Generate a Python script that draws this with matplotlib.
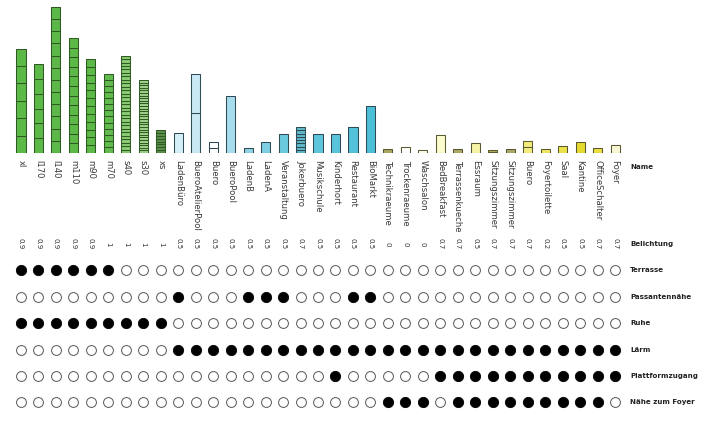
import matplotlib
matplotlib.use('Agg')
import matplotlib.pyplot as plt

# room types, unit area (m2) per stacked segment and number of segments
names = ['xl', 'l170', 'l140', 'm110', 'm90', 'm70', 's40', 's30', 'xs',
         'LadenBüro', 'BueroAtelierPool', 'Buero', 'BueroPool', 'LadenB', 'LadenA',
         'Veranstaltung', 'Jokerbuero', 'Musikschule', 'Kinderhort', 'Restaurant',
         'BioMarkt', 'Technikraeume', 'Trockenraeume', 'Waschsalon', 'BedBreakfast',
         'Terrassenkueche', 'Essraum', 'Sitzungszimmer', 'Sitzungszimmer', 'Buero',
         'Foyertoilette', 'Saal', 'Kantine', 'OfficeSchalter', 'Foyer']
unit_area = [200, 170, 140, 110, 90, 70, 40, 30, 33,
             230, 455, 63, 650, 60, 130, 222, 37, 215, 215, 295, 545,
             46, 72, 35, 210, 46, 115, 17, 46, 70, 42, 84, 126, 60, 95]
unit_count = [6, 6, 12, 12, 12, 13, 28, 28, 8,
              1, 2, 2, 1, 1, 1, 1, 8, 1, 1, 1, 1,
              1, 1, 1, 1, 1, 1, 2, 1, 2, 1, 1, 1, 1, 1]

belichtung = [0.9, 0.9, 0.9, 0.9, 0.9, 1, 1, 1, 1,
              0.5, 0.5, 0.5, 0.5, 0.5, 0.5, 0.5, 0.7, 0.5, 0.5, 0.5, 0.5,
              0, 0, 0, 0.7, 0.7, 0.5, 0.7, 0.7, 0.7, 0.2, 0.5, 0.5, 0.7, 0.7]

row_labels = ['Terrasse', 'Passantennähe', 'Ruhe', 'Lärm', 'Plattformzugang', 'Nähe zum Foyer']
terrasse = [1, 1, 1, 1, 1, 1, 0, 0, 0, 0, 0, 0, 0, 0, 0, 0, 0, 0, 0, 0, 0,
            0, 0, 0, 0, 0, 0, 0, 0, 0, 0, 0, 0, 0, 0]
passanten = [0, 0, 0, 0, 0, 0, 0, 0, 0, 1, 0, 0, 0, 1, 1, 1, 0, 0, 0, 1, 1,
             0, 0, 0, 0, 0, 0, 0, 0, 0, 0, 0, 0, 0, 0]
ruhe = [1, 1, 1, 1, 1, 1, 1, 1, 1, 0, 0, 0, 0, 0, 0, 0, 0, 0, 0, 0, 0,
        0, 0, 0, 0, 0, 0, 0, 0, 0, 0, 0, 0, 0, 0]
laerm = [0, 0, 0, 0, 0, 0, 0, 0, 0, 1, 1, 1, 1, 1, 1, 1, 1, 1, 1, 1, 1,
         1, 1, 1, 1, 1, 1, 1, 1, 1, 1, 1, 1, 1, 1]
plattform = [0, 0, 0, 0, 0, 0, 0, 0, 0, 0, 0, 0, 0, 0, 0, 0, 0, 0, 1, 0, 0,
             0, 0, 0, 1, 1, 1, 1, 1, 1, 1, 1, 1, 1, 1]
foyer = [0, 0, 0, 0, 0, 0, 0, 0, 0, 0, 0, 0, 0, 0, 0, 0, 0, 0, 0, 0, 0,
         1, 1, 1, 0, 1, 1, 1, 1, 1, 1, 1, 1, 1, 0]
flags = [terrasse, passanten, ruhe, laerm, plattform, foyer]

colors = ['#5cb947', '#5cb947', '#5cb947', '#5cb947', '#5cb947', '#62bb4e',
          '#8acb73', '#a3d48f', '#5e8f4c',
          '#d6eff7', '#c9e9f4', '#ffffff', '#a6dcec', '#8dd3e5', '#7ecfe2',
          '#6ccadf', '#5fb9cc', '#5ec6dc', '#5ac4db', '#52c1d9', '#4bbfd7',
          '#a9a862', '#ffffff', '#fdfdec', '#fbfbcd', '#aaa865', '#f6f3a6',
          '#b3ae5a', '#aaa865', '#f3ec7c', '#efe760', '#ebe14a', '#e6da2f',
          '#ece042', '#f8f5d2']
edges = ['#2f5a24'] * 9 + ['#2d4a55'] * 12 + ['#5a5830'] * 14

fig = plt.figure(figsize=(7.15, 4.21), dpi=100)
xlim = (-1.2, 39.72)

# bars
ax = fig.add_axes([0, 0.6366, 1, 0.3634])
for i in range(len(names)):
    for k in range(unit_count[i]):
        ax.bar(i, unit_area[i], bottom=k * unit_area[i], width=0.52,
               color=colors[i], edgecolor=edges[i], linewidth=0.75)
ax.set_xlim(*xlim)
ax.set_ylim(0, 1759)
ax.set_xticks(range(len(names)))
ax.set_xticklabels(names, rotation=270, fontsize=6.1, color='#3a3a3a')
ax.tick_params(axis='x', length=0, pad=5)
ax.set_yticks([])
for s in ax.spines.values():
    s.set_visible(False)
ax.patch.set_alpha(0)

# attribute matrix
ax2 = fig.add_axes([0, 0, 1, 0.6366])
ax2.set_xlim(*xlim)
ax2.set_ylim(6.705, -3.447)
ax2.axis('off')
for i, v in enumerate(belichtung):
    ax2.text(i, 0, f'{v:g}', rotation=270, ha='center', va='center',
             fontsize=5, color='#333333')
for r, row in enumerate(flags, start=1):
    for i, f in enumerate(row):
        if f:
            ax2.scatter(i, r, s=55, color='black', edgecolor='black', linewidth=0.6)
        else:
            ax2.scatter(i, r, s=50, facecolor='white', edgecolor='#555555', linewidth=0.7)

lab_x = 34.85
lab_kw = dict(fontsize=5.1, fontweight='bold', va='center', color='#222222')
ax2.text(lab_x, -2.9, 'Name', **lab_kw)
ax2.text(lab_x, 0, 'Belichtung', **lab_kw)
for r, lab in enumerate(row_labels, start=1):
    ax2.text(lab_x, r, lab, **lab_kw)

fig.savefig('out.png', dpi=100)
